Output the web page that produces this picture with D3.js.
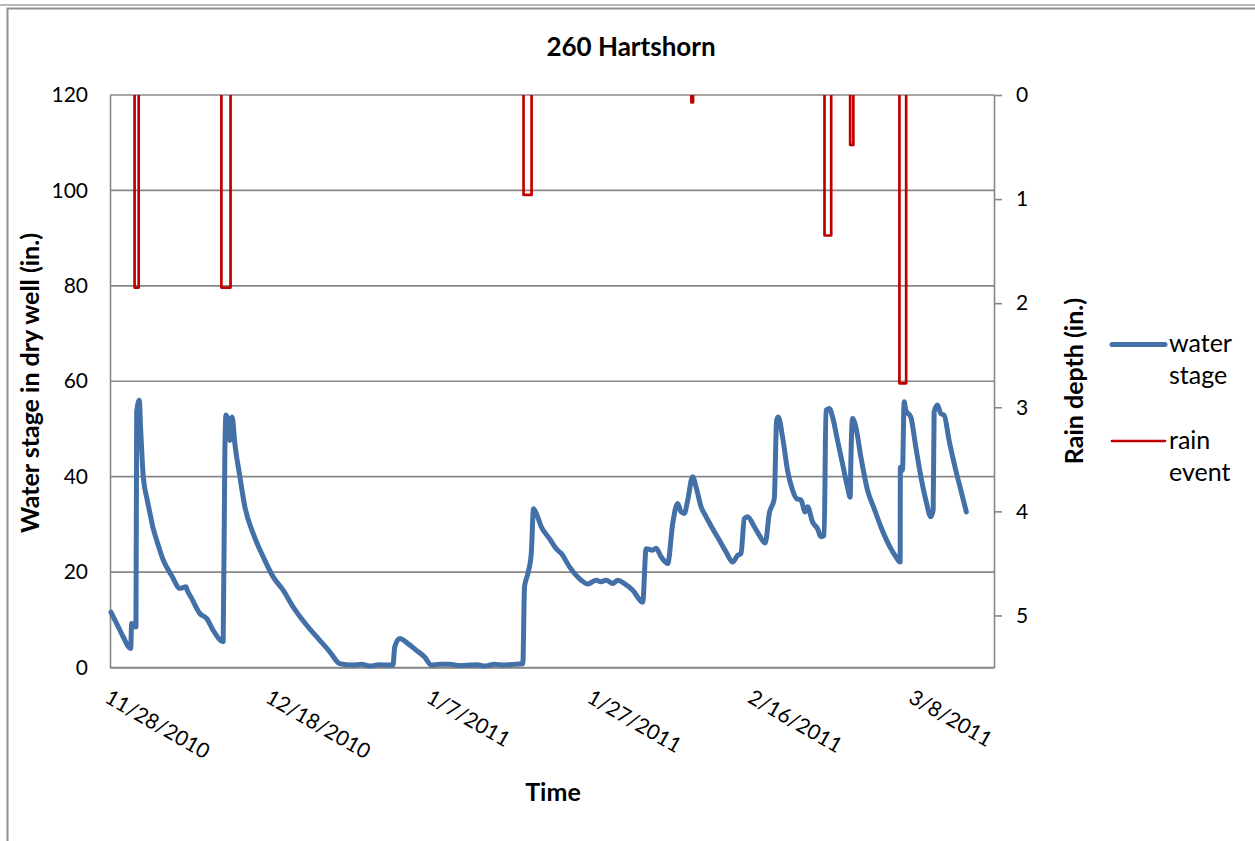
<!DOCTYPE html>
<html>
<head>
<meta charset="utf-8">
<script src="https://cdn.jsdelivr.net/npm/d3@7"></script>
<style>
  html, body { margin: 0; padding: 0; background: #ffffff; }
  svg { display: block; font-family: Lato, "Open Sans", sans-serif; }
</style>
</head>
<body>
<svg id="chart" width="1255" height="841"></svg>
<script>
// ---------- data ----------
const startDate = new Date(2010, 10, 28);   // 11/28/2010, axis minimum
const endDate = new Date(2011, 2, 18);      // 3/18/2011, axis maximum

// water stage: time in days after 11/28/2010 00:00, stage in inches
const stageDays = [
  0.12, 1.03, 1.65, 2.57, 2.70, 3.23, 3.32, 3.64, 3.82, 4.14, 4.56, 4.89, 5.38, 5.80,
  6.63, 7.67, 8.70, 9.45, 9.61, 10.16, 11.19, 12.02, 12.84, 14.08,
  14.29, 14.42, 14.70, 14.92, 15.20, 15.54, 16.16, 16.78, 17.81, 19.06, 20.30, 21.54,
  22.78, 24.45, 26.10, 27.35, 28.59, 29.40, 30.24, 31.30, 32.32, 33.50, 34.80, 35.21,
  35.43, 36.05, 37.08, 38.12, 39.15, 39.99, 41.10, 42.26, 43.50, 44.75, 45.70, 46.60,
  47.86, 49.00, 49.72, 50.60, 51.37,
  51.58, 52.00, 52.42, 52.70, 53.04, 53.66, 54.69, 55.52, 56.15, 57.18, 58.01, 58.63,
  59.45, 60.50, 61.10, 61.74, 62.56, 63.18, 64.01, 65.05, 66.29,
  66.71, 67.53, 67.95, 68.58, 69.40, 70.02, 70.64, 71.06, 71.47, 71.88, 72.50, 72.93,
  73.55, 74.17, 74.99, 75.82, 76.66, 77.48, 78.10, 78.52, 78.93, 79.34, 80.17, 80.80,
  81.54, 82.04, 82.66, 82.95, 83.16, 83.69, 84.31, 84.93, 85.43, 85.98, 86.51, 86.80,
  87.42, 88.04, 88.46, 88.87, 89.09, 89.50, 89.91, 90.53, 91.15, 91.77, 92.11, 92.19,
  92.39, 92.81, 93.44, 94.26, 95.09, 95.92, 96.95, 97.79, 98.32, 98.35, 98.61, 98.82,
  99.03, 99.65, 100.27, 100.90, 101.52, 102.14, 102.43, 102.55, 102.96, 103.38, 103.79,
  104.41, 105.25, 105.87, 106.56
];
const stageValues = [
  11.6, 8.5, 6.4, 4.0, 9.2, 8.5, 53.6, 56.0, 49.7, 40.0, 35.7, 33.0, 29.1, 26.7,
  22.5, 19.3, 16.6, 16.9, 16.2, 14.5, 11.3, 10.3, 7.8, 5.4,
  44.8, 52.9, 51.8, 47.6, 52.5, 46.9, 40.0, 33.7, 28.1, 23.2, 19.0, 16.2,
  12.7, 8.9, 5.7, 3.3, 0.8, 0.6, 0.5, 0.7, 0.3, 0.6, 0.5, 0.5,
  4.3, 6.1, 5.0, 3.6, 2.2, 0.5, 0.7, 0.7, 0.4, 0.5, 0.6, 0.3,
  0.7, 0.5, 0.6, 0.7, 0.8,
  16.9, 19.7, 23.9, 33.3, 32.3, 29.5, 27.0, 24.9, 23.9, 21.1, 19.3, 18.3,
  17.5, 18.3, 18.0, 18.3, 17.6, 18.3, 17.6, 16.2, 13.7,
  24.9, 24.6, 25.0, 23.2, 21.8, 30.2, 34.4, 32.6, 32.3, 35.0, 40.0, 37.8,
  33.7, 31.6, 29.1, 26.7, 24.2, 22.1, 23.5, 23.9, 31.2, 31.6, 29.5, 27.7,
  26.1, 32.3, 35.4, 51.8, 52.5, 48.3, 41.3, 37.2, 35.4, 35.1, 32.6, 33.7,
  30.5, 29.1, 27.4, 27.7, 53.9, 54.3, 52.5, 47.6, 42.7, 37.8, 35.7, 43.1,
  52.2, 50.4, 44.1, 37.2, 33.3, 29.5, 25.6, 23.2, 22.1, 42.0, 41.3, 55.7,
  53.9, 52.5, 46.2, 40.0, 35.1, 31.6, 33.0, 53.6, 55.0, 53.2, 52.9,
  47.6, 41.3, 37.2, 32.6
];

// rain events: start / end (days after 11/28/2010) and depth (in.)
const rainStartDays = [3.06, 13.86, 51.46, 72.34, 88.91, 92.10, 98.23];
const rainEndDays   = [3.57, 15.00, 52.46, 72.55, 89.74, 92.50, 99.07];
const rainDepths    = [1.85, 1.85, 0.96, 0.07, 1.35, 0.48, 2.77];

const xTickDates = [
  new Date(2010, 10, 28), new Date(2010, 11, 18), new Date(2011, 0, 7),
  new Date(2011, 0, 27), new Date(2011, 1, 16), new Date(2011, 2, 8)
];
const leftTicks = [0, 20, 40, 60, 80, 100, 120];
const rightTicks = [0, 1, 2, 3, 4, 5];
const seriesNames = ["water stage", "rain event"];
const chartTitle = "260 Hartshorn";
const xTitle = "Time";
const yLeftTitle = "Water stage in dry well (in.)";
const yRightTitle = "Rain depth (in.)";

// ---------- drawing ----------
const svg = d3.select("#chart");
const W = 1255, H = 841;
const plot = { left: 110, right: 994, top: 95, bottom: 667.5 };
const gridColor = "#878787";
const blue = "#4370a7";
const red = "#c00000";
const tickFont = 21;

const toDate = d => new Date(startDate.getTime() + d * 864e5);

const x = d3.scaleTime().domain([startDate, endDate]).range([plot.left, plot.right]);
const yL = d3.scaleLinear().domain([0, 120]).range([plot.bottom, plot.top]);
const yR = d3.scaleLinear().domain([0, 5.5]).range([plot.top, plot.bottom]);

// outer frames
svg.append("line").attr("x1", 0).attr("x2", W).attr("y1", 5).attr("y2", 5)
  .attr("stroke", "#a0a0a0").attr("stroke-width", 1.5);
svg.append("path").attr("d", `M${W + 5},8.5 H7.5 V${H + 5}`)
  .attr("fill", "none").attr("stroke", "#8f8f8f").attr("stroke-width", 2);

// gridlines
svg.append("g").selectAll("line").data(leftTicks).join("line")
  .attr("x1", plot.left).attr("x2", plot.right)
  .attr("y1", d => yL(d)).attr("y2", d => yL(d))
  .attr("stroke", gridColor).attr("stroke-width", 1.6);

// left axis
const gL = svg.append("g").attr("transform", `translate(${plot.left},0)`)
  .call(d3.axisLeft(yL).tickValues(leftTicks).tickSize(0).tickPadding(22));
gL.select(".domain").attr("stroke", gridColor).attr("stroke-width", 1.6);
gL.selectAll("text").attr("font-size", tickFont).attr("fill", "#000").attr("font-family", "Lato");

// right axis
const gR = svg.append("g").attr("transform", `translate(${plot.right},0)`)
  .call(d3.axisRight(yR).tickValues(rightTicks).tickFormat(d3.format("d"))
    .tickSize(8).tickPadding(14).tickSizeOuter(0));
gR.select(".domain").attr("stroke", gridColor).attr("stroke-width", 1.6);
gR.selectAll(".tick line").attr("stroke", gridColor).attr("stroke-width", 1.6);
gR.selectAll("text").attr("font-size", tickFont).attr("fill", "#000").attr("font-family", "Lato");

// bottom axis
const fmt = d3.timeFormat("%-m/%-d/%Y");
const gB = svg.append("g").attr("transform", `translate(0,${plot.bottom})`)
  .call(d3.axisBottom(x).tickValues(xTickDates).tickSize(0).tickFormat(fmt));
gB.select(".domain").attr("stroke", gridColor).attr("stroke-width", 1.6);
gB.selectAll("text")
  .attr("font-size", tickFont).attr("fill", "#000").attr("font-family", "Lato")
  .attr("text-anchor", "start")
  .attr("x", 0).attr("y", 0).attr("dy", null)
  .attr("transform", "translate(-7,34) rotate(30)");

// rain events (secondary axis, inverted)
const rainLine = d3.line().x(p => x(toDate(p[0]))).y(p => yR(p[1]));
const rainEvents = rainDepths.map((dep, i) => [
  [rainStartDays[i], 0], [rainStartDays[i], dep], [rainEndDays[i], dep], [rainEndDays[i], 0]
]);
svg.append("g").selectAll("path").data(rainEvents).join("path")
  .attr("d", rainLine)
  .attr("fill", "none").attr("stroke", red).attr("stroke-width", 2.7)
  .attr("stroke-linejoin", "round");

// water stage line
const stageLine = d3.line()
  .x((d, i) => x(toDate(stageDays[i])))
  .y(d => yL(d))
  .curve(d3.curveMonotoneX);
svg.append("path").datum(stageValues)
  .attr("d", stageLine)
  .attr("fill", "none").attr("stroke", blue).attr("stroke-width", 5)
  .attr("stroke-linejoin", "round").attr("stroke-linecap", "round");

// titles
svg.append("text").attr("x", 631).attr("y", 56).attr("text-anchor", "middle")
  .attr("font-size", 26).attr("font-weight", "bold").text(chartTitle);
svg.append("text").attr("x", 553).attr("y", 801).attr("text-anchor", "middle")
  .attr("font-size", 25).attr("font-weight", "bold").text(xTitle);
svg.append("text").attr("transform", "translate(39,383) rotate(-90)").attr("text-anchor", "middle")
  .attr("font-size", 25).attr("font-weight", "bold").text(yLeftTitle);
svg.append("text").attr("transform", "translate(1083,381) rotate(-90)").attr("text-anchor", "middle")
  .attr("font-size", 25).attr("font-weight", "bold").text(yRightTitle);

// legend
const legendY = [344.5, 441];
const legendColors = [blue, red];
const legendWidths = [5, 2.7];
const lg = svg.append("g");
seriesNames.forEach((name, i) => {
  lg.append("line").attr("x1", 1112).attr("x2", 1165)
    .attr("y1", legendY[i]).attr("y2", legendY[i])
    .attr("stroke", legendColors[i]).attr("stroke-width", legendWidths[i])
    .attr("stroke-linecap", "round");
  const words = name.split(" ");
  const t = lg.append("text").attr("x", 1169).attr("y", legendY[i] + 7.5).attr("font-size", 25);
  words.forEach((w, j) => {
    t.append("tspan").attr("x", 1169).attr("dy", j === 0 ? 0 : 32).text(w);
  });
});
</script>
</body>
</html>
